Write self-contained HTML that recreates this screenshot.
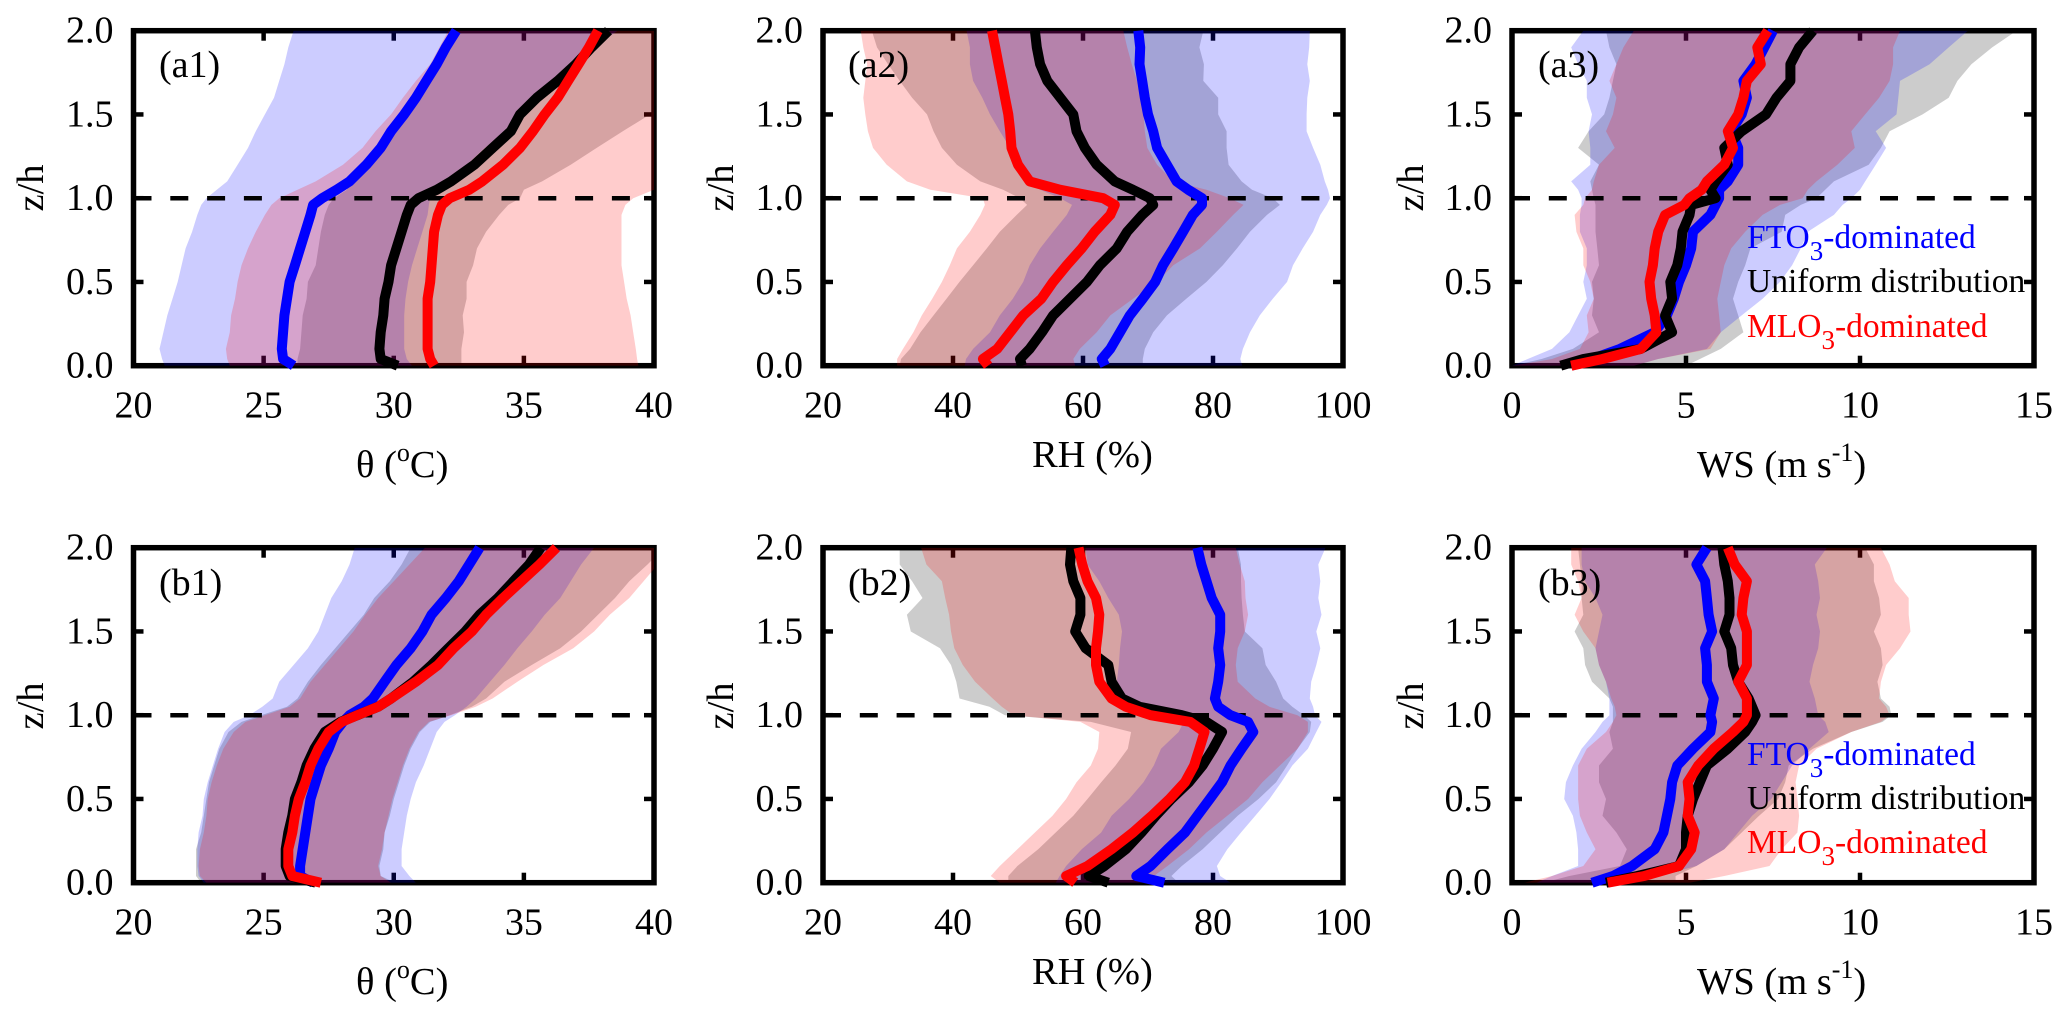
<!DOCTYPE html>
<html lang="en">
<head>
<meta charset="utf-8">
<title>Vertical profiles of theta, RH and WS</title>
<style>
html,body{margin:0;padding:0;background:#fff;width:2067px;height:1020px;overflow:hidden}
svg{display:block}
text{font-family:"Liberation Serif",serif;fill:#000}
</style>
</head>
<body>
<svg id="figure" xmlns="http://www.w3.org/2000/svg" width="2067" height="1020" viewBox="0 0 2067 1020">
<rect width="2067" height="1020" fill="#fff"/>
<g id="panels"></g>

<g font-size="38">
<text x="159" y="77">(a1)</text>
<text x="848" y="77">(a2)</text>
<text x="1538" y="77">(a3)</text>
<text x="159" y="595">(b1)</text>
<text x="848" y="595">(b2)</text>
<text x="1538" y="595">(b3)</text>
</g>

<g font-size="38.5">
<text x="356" y="477">θ (<tspan font-size="26" dy="-16">o</tspan><tspan dy="16">C)</tspan></text>
<text x="1032" y="467">RH (%)</text>
<text x="1697" y="477">WS (m s<tspan font-size="26" dy="-16">-1</tspan><tspan dy="16">)</tspan></text>
<text x="356" y="994">θ (<tspan font-size="26" dy="-16">o</tspan><tspan dy="16">C)</tspan></text>
<text x="1032" y="984">RH (%)</text>
<text x="1697" y="994">WS (m s<tspan font-size="26" dy="-16">-1</tspan><tspan dy="16">)</tspan></text>
</g>

<g font-size="38.5" text-anchor="middle">
<text transform="translate(43 188) rotate(-90)">z/h</text>
<text transform="translate(733 188) rotate(-90)">z/h</text>
<text transform="translate(1423 188) rotate(-90)">z/h</text>
<text transform="translate(43 706) rotate(-90)">z/h</text>
<text transform="translate(733 706) rotate(-90)">z/h</text>
<text transform="translate(1423 706) rotate(-90)">z/h</text>
</g>

<g font-size="33.5">
<text x="1747" y="248" style="fill:#0000ff">FTO<tspan font-size="27" dy="12" style="fill:#0000ff">3</tspan><tspan dy="-12" style="fill:#0000ff">-dominated</tspan></text>
<text x="1747" y="292">Uniform distribution</text>
<text x="1747" y="337" style="fill:#ff0000">MLO<tspan font-size="27" dy="12" style="fill:#ff0000">3</tspan><tspan dy="-12" style="fill:#ff0000">-dominated</tspan></text>
</g>
<g font-size="33.5">
<text x="1747" y="765" style="fill:#0000ff">FTO<tspan font-size="27" dy="12" style="fill:#0000ff">3</tspan><tspan dy="-12" style="fill:#0000ff">-dominated</tspan></text>
<text x="1747" y="809">Uniform distribution</text>
<text x="1747" y="853" style="fill:#ff0000">MLO<tspan font-size="27" dy="12" style="fill:#ff0000">3</tspan><tspan dy="-12" style="fill:#ff0000">-dominated</tspan></text>
</g>
</svg>

<script>
// Height levels shared by every series
const zLevels = [0,0.04,0.1,0.2,0.3,0.4,0.5,0.6,0.7,0.8,0.9,0.96,1,1.05,1.1,1.2,1.3,1.4,1.5,1.6,1.7,1.8,1.9,2];

// Tick labels
const zTicks = [0,0.5,1,1.5,2];
const thetaTicks = [20,25,30,35,40];
const rhTicks = [20,40,60,80,100];
const wsTicks = [0,5,10,15];

// (a1) theta
const a1BlueLine = [26.15,25.75,25.7,25.75,25.8,25.9,26,26.2,26.4,26.6,26.8,26.9,27.25,27.8,28.3,28.95,29.5,29.9,30.4,30.85,31.25,31.65,32,32.4];
const a1BlackLine = [30.15,29.5,29.45,29.5,29.6,29.65,29.8,29.9,30.1,30.3,30.5,30.65,30.95,31.65,32.2,33.1,33.8,34.5,34.85,35.5,36.3,37,37.6,38.25];
const a1RedLine = [31.55,31.4,31.3,31.3,31.3,31.3,31.4,31.45,31.5,31.55,31.7,31.85,32.15,32.9,33.4,34.2,34.85,35.35,35.8,36.3,36.7,37.1,37.5,37.85];
const a1GrayLow = [26.3,26.3,26.4,26.45,26.5,26.65,26.7,27,27.1,27.2,27.35,27.5,27.7,28.2,28.3,28.8,29.35,29.8,30.2,30.75,31.25,31.5,32,32.6];
const a1GrayHigh = [32.6,32.6,32.6,32.7,32.65,32.8,32.8,33.05,33.2,33.55,34.05,34.4,34.85,35,35.7,36.8,37.8,38.8,39.85,41,42,43,44,45];
const a1BlueLow = [21.2,21.1,21,21.15,21.3,21.5,21.7,21.85,22,22.25,22.45,22.6,22.8,23.2,23.6,24,24.4,24.7,25.05,25.4,25.6,25.8,25.95,26.15];
const a1BlueHigh = [30.7,30.5,30.4,30.4,30.4,30.45,30.55,30.7,30.9,31.1,31.3,31.35,31.4,31.8,32.1,32.8,33.5,34.3,35,35.6,36.2,36.8,37.7,38.6];
const a1RedLow = [23.7,23.6,23.55,23.7,23.75,23.9,24,24.15,24.4,24.7,25.05,25.3,25.6,26.3,27,28.05,28.8,29.3,29.9,30.35,30.85,31.4,31.75,32.1];
const a1RedHigh = [39.4,39.35,39.3,39.2,39.1,38.95,38.85,38.75,38.75,38.75,38.75,38.9,39.2,40,40.6,41.5,42.5,43.5,44.5,45.5,46.5,47.5,48.5,49.5];

// (a2) RH
const a2BlueLine = [63.4,62.9,64.2,65.7,67.2,69.2,71.1,72.3,73.9,75.4,76.9,78.3,78.3,76.2,74.4,72.9,71.4,70.8,70,69.5,69.1,68.7,68.8,68.5];
const a2BlackLine = [50.6,50.3,51.8,53.7,55.4,58,60.6,62.6,65.2,66.8,69.1,70.8,70.3,67.7,64.9,62.1,60.3,59,58.5,56.5,54.5,53.4,52.9,52.6];
const a2RedLine = [45.4,44.6,46.8,48.8,50.8,53.6,55.4,57.5,59.8,61.8,64.2,64.9,63.1,56.5,51.8,50,49,48.8,48.5,48,47.5,47,46.5,46];
const a2GrayLow = [31.8,32,33.4,35,37,39,41,43.1,45.2,47.2,49.8,51.4,50.3,47.7,44.2,40.6,38.3,37,36,33.7,31.8,30,28.3,27.5];
const a2GrayHigh = [69.2,69.2,69.5,70.8,72.9,75.9,79,81.5,83.7,85.7,88.3,90.3,89.2,86,84.4,82.4,82.1,82.1,80.8,80.8,78.5,78.6,77.9,78.5];
const a2BlueLow = [41.8,42,43.1,45.7,47.2,49.2,50.8,51.8,53.4,55.4,57.5,58.3,56.5,53.4,51.8,49.8,48.8,47.2,45.7,44.5,43.1,42.6,42.6,42.1];
const a2BlueHigh = [84.5,84.2,84.6,85.7,87.2,89.2,91.4,92.3,93.8,95.4,96.5,97.5,98,97.7,97.2,96.5,95.4,94.4,94.4,94.5,94.9,94.5,94.8,94.9];
const a2RedLow = [31.4,31.4,32.3,33.9,35.2,36.8,38.3,39.5,40.6,42.6,44.2,44.9,44.6,36.5,32.9,29.8,27.7,26.9,26.5,26.2,26.5,26.8,26.2,25.8];
const a2RedHigh = [58.8,58.5,59.5,62.1,64.2,67.7,71.4,73.9,78,80.6,83.1,84.7,82.6,79,73.9,71.4,69.9,69.5,69.3,68.8,68.3,67.5,66.8,66.2];

// (a3) WS
const a3BlueLine = [1.7,2.3,3.1,4.1,4.45,4.65,4.8,5,5.15,5.2,5.7,5.85,5.95,5.95,6.2,6.5,6.5,6.3,6.6,6.75,6.65,7,7.25,7.5];
const a3BlackLine = [1.4,2.05,3.7,4.6,4.4,4.6,4.55,4.75,4.85,4.9,5.1,5.15,5.85,5.7,5.85,6.2,6.1,6.6,7.3,7.6,8,8,8.25,8.65];
const a3RedLine = [1.7,2.6,3.7,4.15,4.1,4,3.95,4.05,4.1,4.2,4.4,4.95,5.1,5.45,5.6,6.1,6.35,6.2,6.5,6.65,6.75,7.15,7.05,7.35];
const a3GrayLow = [0,0.85,1.75,2.5,2.3,2.35,2.3,2.5,2.45,2.4,2.4,2.4,2.35,2.3,2.25,2.5,1.9,2.2,2.65,2.8,2.9,3,2.8,2.7];
const a3GrayHigh = [5,5.4,6,6.65,6.5,6.35,6.5,6.7,6.85,7.75,7.85,8.3,8.75,9,9.25,10.25,10.6,10.85,11.8,12.55,12.8,13.2,13.8,14.5];
const a3BlueLow = [0,0.45,1.15,1.65,1.9,2.15,2.05,2.15,2.15,1.95,1.95,2,2,1.9,1.7,2.25,2.25,2.2,2.3,2.15,2.15,1.9,1.7,2.05];
const a3BlueHigh = [3.5,4.2,5.6,6,6.6,7.2,7.7,8.05,8.3,8.5,9.25,9.5,9.75,10,10.15,10.45,10.75,10.45,11.05,11.1,11.15,12,12.55,13.1];
const a3RedLow = [0,1.15,1.95,2.2,2.15,2.35,2.25,2.05,2.05,1.85,1.8,2.05,2.1,2.3,2.35,2.5,2.95,2.7,2.9,3,2.8,3,3.2,3.5];
const a3RedHigh = [3.5,4.2,5.7,6,5.95,5.9,6,6.1,6.3,6.7,7.2,7.7,8.35,8.5,8.75,9.35,9.85,9.75,10.15,10.55,10.85,10.95,10.95,11.15];

// (b1) theta
const b1BlueLine = [26.9,26.4,26.4,26.5,26.6,26.7,26.8,27,27.2,27.5,27.75,28.05,28.3,28.85,29.2,29.65,30.1,30.65,31.1,31.45,32,32.5,32.9,33.3];
const b1BlackLine = [27,26,25.85,25.85,25.95,26.1,26.2,26.45,26.65,26.95,27.35,27.95,28.6,29.4,29.9,30.75,31.45,32.1,32.75,33.3,34,34.6,35.2,35.65];
const b1RedLine = [27.2,26.1,25.95,25.95,26.1,26.2,26.35,26.6,26.8,27.1,27.5,28,28.6,29.4,29.9,30.85,31.7,32.3,33,33.55,34.2,34.9,35.6,36.25];
const b1GrayLow = [22.6,22.4,22.4,22.4,22.6,22.7,22.8,22.9,23.1,23.3,23.65,24.15,24.9,25.9,26.3,26.7,27.2,27.75,28.3,28.85,29.25,29.85,30.3,30.65];
const b1GrayHigh = [30.05,29.5,29.45,29.6,29.65,29.85,30,30.2,30.4,30.65,31,31.4,32.15,33,33.55,34.25,35.3,36.4,37.2,37.85,38.5,39.05,39.75,40.4];
const b1BlueLow = [22.7,22.5,22.45,22.45,22.5,22.65,22.7,22.85,23.05,23.25,23.5,23.85,24.45,24.95,25.35,25.6,26.15,26.7,27.1,27.35,27.6,28,28.3,28.5];
const b1BlueHigh = [30.85,30.6,30.3,30.3,30.4,30.5,30.65,30.85,31.15,31.4,31.65,31.95,32.35,32.8,33.15,33.7,34.25,34.75,35.3,35.8,36.4,36.8,37.2,37.7];
const b1RedLow = [22.8,22.55,22.5,22.55,22.7,22.8,22.85,23,23.2,23.45,23.85,24.3,25.05,26,26.4,26.8,27.35,27.9,28.45,28.9,29.4,30,30.6,31.2];
const b1RedHigh = [29.9,29.5,29.4,29.55,29.65,29.8,29.95,30.15,30.35,30.6,30.95,31.35,32.2,33.15,33.8,34.75,35.75,36.9,37.7,38.3,39.05,39.6,40.15,40.95];

// (b2) RH
const b2BlueLine = [72.5,68.2,70.4,73,75.7,77.6,79.5,81.4,82.7,84.4,86.2,85.4,82.7,80.8,80.3,80.8,81.1,80.8,81.1,81.1,79.8,79,78.2,77.6];
const b2BlackLine = [63.9,60.9,63.3,66.6,69,71.2,73.6,76.3,78.4,80,81.4,79,75.2,68.7,66,64.4,63.9,60.4,58.8,59.6,59.6,58.5,58,58.2];
const b2RedLine = [58.8,57.4,60.7,64.4,67.7,70.6,73.3,75.7,77.1,77.9,78.7,76.5,70.4,66.6,64.4,62.5,62,62,62.3,62.5,62,60.7,59.9,59.3];
const b2GrayLow = [48.5,48.5,49.9,53.1,55.8,58.5,60.7,62.8,65,66.9,67.4,61.2,48,45.6,41,40.5,39.7,38,33.5,32.9,35.3,33.7,31.8,31.8];
const b2GrayHigh = [74.7,73.6,75.2,78.4,81.1,83.8,87,89.7,91.4,93,94.9,95.1,94,92.2,90.8,89.7,88.1,87.6,84.9,84.6,84.4,84.3,84.3,83.8];
const b2BlueLow = [55.8,56.4,57.4,59.8,62.8,64.4,67.1,69.3,70.9,72,74.7,75.5,73,68.7,66.3,65.2,65.5,65.7,66,65.5,63.9,62.5,60.7,60.4];
const b2BlueHigh = [82.7,81.1,80.6,82.2,84.3,86.5,88.7,90.5,92.2,94.6,95.9,96.7,95.7,95.4,94.9,95.1,95.9,96.5,95.9,96.7,96.2,96.5,96.2,97.3];
const b2RedLow = [47.2,45.8,47.2,49.9,52.6,55.3,57.4,59,61.2,62.3,62.5,59.6,49.3,47.5,46.1,43.4,41.5,40.2,39.7,39.4,38.8,38.3,35.9,35.1];
const b2RedHigh = [72,70.9,73,76.3,79,82.2,85.4,87.6,90.3,93,94.6,94.6,93,88.7,86.5,83.8,83.5,83.8,84.9,85.4,85,84.9,84.1,83.5];

// (b3) WS
const b3BlueLine = [2.3,2.9,3.45,4.1,4.35,4.45,4.55,4.6,4.75,5.2,5.7,5.75,5.7,5.75,5.8,5.6,5.6,5.55,5.75,5.65,5.6,5.55,5.3,5.6];
const b3BlackLine = [2.7,3.6,4.8,5,5,5.05,5.2,5.4,5.6,6.2,6.7,6.9,7,6.9,6.8,6.5,6.35,6.3,6.1,6.25,6.25,6.2,6.1,6.05];
const b3RedLine = [2.75,3.8,4.8,5.15,5.25,5.05,5.1,5.05,5.35,5.8,6.35,6.65,6.75,6.75,6.75,6.5,6.75,6.75,6.75,6.6,6.65,6.75,6.4,6.2];
const b3GrayLow = [0.9,1.65,3.1,3.3,3,2.6,2.7,2.5,2.5,2.9,2.8,2.9,2.9,2.9,2.8,2.3,2.1,2.05,1.8,2.05,2,2,1.95,1.9];
const b3GrayHigh = [4.7,4.7,5.3,6.1,6.6,7.1,7.65,7.85,7.95,8.65,9.75,10.65,10.9,10.85,10.6,10.5,10.65,10.6,10.4,10.6,10.55,10.4,10.4,10.15];
const b3BlueLow = [0.7,1.15,1.9,1.9,1.85,1.75,1.5,1.55,1.75,2,2.4,2.6,2.8,2.8,2.8,2.7,2.5,2.4,2.5,2.6,2.4,2.1,2,2];
const b3BlueHigh = [3.2,4.2,5.3,6.1,6.5,6.9,7.45,7.75,8.05,8.55,9.1,9,8.8,8.75,8.7,8.55,8.65,8.8,8.85,8.75,8.85,8.8,8.7,9.05];
const b3RedLow = [0.35,1.15,2.05,2.4,2.15,1.95,1.9,1.9,1.9,2.15,2.7,2.9,3,2.95,2.85,2.7,2.5,2.4,2.05,1.8,2,1.9,1.7,1.7];
const b3RedHigh = [5.1,6.1,7.4,7.75,8.2,8.25,8.2,8.15,8.25,8.75,9.75,10.6,10.85,10.75,10.55,10.6,10.75,11.15,11.45,11.4,11.4,11,10.85,10.6];

const panelList = [
  {id:'a1',left:133.5,right:654,top:30.7,bottom:365.7,xMin:20,xMax:40,xTicks:thetaTicks,
   black:[a1GrayLow,a1GrayHigh,a1BlackLine],blue:[a1BlueLow,a1BlueHigh,a1BlueLine],red:[a1RedLow,a1RedHigh,a1RedLine]},
  {id:'a2',left:823,right:1343,top:30.7,bottom:365.7,xMin:20,xMax:100,xTicks:rhTicks,
   black:[a2GrayLow,a2GrayHigh,a2BlackLine],blue:[a2BlueLow,a2BlueHigh,a2BlueLine],red:[a2RedLow,a2RedHigh,a2RedLine]},
  {id:'a3',left:1512,right:2034,top:30.7,bottom:365.7,xMin:0,xMax:15,xTicks:wsTicks,
   black:[a3GrayLow,a3GrayHigh,a3BlackLine],blue:[a3BlueLow,a3BlueHigh,a3BlueLine],red:[a3RedLow,a3RedHigh,a3RedLine]},
  {id:'b1',left:133.5,right:654,top:547.7,bottom:882.7,xMin:20,xMax:40,xTicks:thetaTicks,
   black:[b1GrayLow,b1GrayHigh,b1BlackLine],blue:[b1BlueLow,b1BlueHigh,b1BlueLine],red:[b1RedLow,b1RedHigh,b1RedLine]},
  {id:'b2',left:823,right:1343,top:547.7,bottom:882.7,xMin:20,xMax:100,xTicks:rhTicks,
   black:[b2GrayLow,b2GrayHigh,b2BlackLine],blue:[b2BlueLow,b2BlueHigh,b2BlueLine],red:[b2RedLow,b2RedHigh,b2RedLine]},
  {id:'b3',left:1512,right:2034,top:547.7,bottom:882.7,xMin:0,xMax:15,xTicks:wsTicks,
   black:[b3GrayLow,b3GrayHigh,b3BlackLine],blue:[b3BlueLow,b3BlueHigh,b3BlueLine],red:[b3RedLow,b3RedHigh,b3RedLine]}
];

const NS = 'http://www.w3.org/2000/svg';
function make(parent, tag, attrs) {
  const el = document.createElementNS(NS, tag);
  for (const key in attrs) el.setAttribute(key, attrs[key]);
  parent.appendChild(el);
  return el;
}

const root = document.getElementById('panels');
const defs = make(root, 'defs', {});
const bandColors = {black:'#000000', blue:'#0000ff', red:'#ff0000'};
const lineOrder = ['blue','black','red'];
const bandOrder = ['black','blue','red'];

panelList.forEach(function (p) {
  const xAxis = function (v) { return p.left + (v - p.xMin) / (p.xMax - p.xMin) * (p.right - p.left); };
  const yAxis = function (z) { return p.bottom - z / 2 * (p.bottom - p.top); };
  const linePoints = function (values) {
    return values.map(function (v, i) { return xAxis(v).toFixed(1) + ',' + yAxis(zLevels[i]).toFixed(1); });
  };

  const g = make(root, 'g', {});
  
  

  const clip = make(defs, 'clipPath', {id: 'clip-' + p.id});
  make(clip, 'rect', {x: p.left, y: p.top, width: p.right - p.left, height: p.bottom - p.top});

  // frame
  const frame = make(g, 'rect', {x: p.left, y: p.top, width: p.right - p.left, height: p.bottom - p.top, fill: 'none', stroke: '#000', 'stroke-width': 5.5});
  
  

  // x ticks and labels
  p.xTicks.forEach(function (t) {
    const x = xAxis(t);
    if (t !== p.xMin && t !== p.xMax) {
      const tickBottom = make(g, 'line', {x1: x, x2: x, y1: p.bottom, y2: p.bottom - 10, stroke: '#000', 'stroke-width': 4.5});
      
      
      const tickTop = make(g, 'line', {x1: x, x2: x, y1: p.top, y2: p.top + 10, stroke: '#000', 'stroke-width': 4.5});
      
      
    }
    const label = make(g, 'text', {x: x, y: p.bottom + 52, 'font-size': 38, 'text-anchor': 'middle'});
    label.textContent = String(t);
    
    
  });

  // y ticks and labels
  zTicks.forEach(function (t) {
    const y = yAxis(t);
    if (t !== 0 && t !== 2) {
      const tickLeft = make(g, 'line', {x1: p.left, x2: p.left + 10, y1: y, y2: y, stroke: '#000', 'stroke-width': 4.5});
      
      
      const tickRight = make(g, 'line', {x1: p.right, x2: p.right - 10, y1: y, y2: y, stroke: '#000', 'stroke-width': 4.5});
      
      
    }
    const label = make(g, 'text', {x: p.left - 20, y: y + 12, 'font-size': 38, 'text-anchor': 'end'});
    label.textContent = t.toFixed(1);
    
    
  });

  // shaded spreads
  const bands = make(g, 'g', {'clip-path': 'url(#clip-' + p.id + ')'});
  
  
  bandOrder.forEach(function (key) {
    const low = p[key][0], high = p[key][1];
    const pts = linePoints(low).concat(linePoints(high).reverse()).join(' ');
    const band = make(bands, 'polygon', {points: pts, fill: bandColors[key], 'fill-opacity': 0.2, stroke: 'none'});
    
    
  });

  // reference line at z/h = 1
  const ref = make(g, 'line', {x1: p.left, x2: p.right, y1: yAxis(1), y2: yAxis(1), stroke: '#000', 'stroke-width': 4.5, 'stroke-dasharray': '18 18.8'});
  
  

  // mean profiles
  lineOrder.forEach(function (key) {
    const poly = make(g, 'polyline', {points: linePoints(p[key][2]).join(' '), fill: 'none', stroke: bandColors[key], 'stroke-width': 10, 'stroke-linejoin': 'round', 'stroke-linecap': 'butt'});
    
    
  });
});
</script>
</body>
</html>
